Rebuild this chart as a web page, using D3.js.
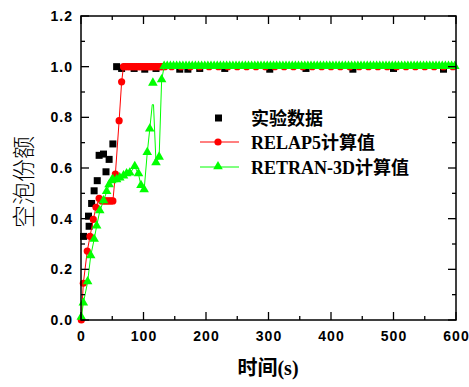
<!DOCTYPE html>
<html lang="zh">
<head>
<meta charset="UTF-8">
<title>空泡份额</title>
<script src="https://d3js.org/d3.v7.min.js"></script>
<style>
  body { margin: 0; background: #fff; }
  .tick-label { font-family: "Liberation Sans", Arial, sans-serif; font-weight: bold; font-size: 14px; letter-spacing: 1px; }
  .legend-text { font-family: "Liberation Serif", "Noto Sans CJK SC", serif; font-weight: bold; font-size: 18px; }
</style>
</head>
<body>
<script>
// data
var expT = [4, 12, 13, 17, 21, 26, 29, 36, 40, 45, 51, 57, 65, 85, 102, 120, 158, 171, 190, 230, 302, 360, 435, 500, 580];
var expV = [0.33, 0.41, 0.37, 0.46, 0.51, 0.55, 0.65, 0.655, 0.585, 0.634, 0.695, 1.0, 0.993, 0.993, 0.99, 0.993, 0.99, 0.99, 0.993, 0.993, 0.99, 0.993, 0.99, 0.993, 0.99];

var relapT = [0.5, 3.7, 10, 14.4, 19.7, 24, 29, 33, 36, 39, 42, 45, 48, 51, 55, 61, 65];
var relapV = [0, 0.145, 0.272, 0.33, 0.397, 0.445, 0.48, 0.47, 0.47, 0.47, 0.47, 0.47, 0.47, 0.47, 0.576, 0.787, 0.94];
var relapPlateauT = [68, 71, 74, 77, 80, 83, 86, 89, 92, 95, 98, 101, 104, 107, 110, 113, 116, 119, 122, 125, 128, 131, 134,
  145, 160, 175, 190, 205, 220, 235, 250, 265, 280, 295, 310, 325, 340, 355, 370, 385, 400, 415, 430, 445, 460, 475, 490, 505, 520, 535, 550, 565, 580, 595];
var relapPlateauV = 1.0;

var retranT = [0.5, 3.7, 10.6, 15.5, 21, 25, 30, 36, 41, 45, 49, 51, 57, 62, 68, 73, 78, 86, 92, 96, 101, 106, 110, 120, 125, 129];
var retranV = [0.01, 0.066, 0.15, 0.253, 0.318, 0.37, 0.43, 0.47, 0.506, 0.533, 0.549, 0.553, 0.553, 0.56, 0.568, 0.576, 0.579, 0.605, 0.576, 0.53, 0.513, 0.66, 0.753, 0.62, 0.642, 0.947];
// line-only points of the spike (no symbol) and a lone symbol
var retranSpikeT = [114, 116];
var retranSpikeV = [0.85, 0.85];
var retranLoneT = [115];
var retranLoneV = [0.934];
var retranPlateauT = [133, 138, 143, 148, 153, 158, 163, 168, 173, 178, 183, 188, 193, 198, 203, 208, 213, 218, 223, 228,
  233, 238, 243, 248, 253, 258, 263, 268, 273, 278, 283, 288, 293, 298, 303, 308, 313, 318, 323, 328, 333, 338, 343, 348,
  353, 358, 363, 368, 373, 378, 383, 388, 393, 398, 403, 408, 413, 418, 423, 428, 433, 438, 443, 448, 453, 458, 463, 468,
  473, 478, 483, 488, 493, 498, 503, 508, 513, 518, 523, 528, 533, 538, 543, 548, 553, 558, 563, 568, 573, 578, 583, 588, 593, 598];
var retranPlateauV = 1.0;

var xTicks = [0, 100, 200, 300, 400, 500, 600];
var yTicks = [0.0, 0.2, 0.4, 0.6, 0.8, 1.0, 1.2];
var legendLabels = ["实验数据", "RELAP5计算值", "RETRAN-3D计算值"];

var w = 469, h = 387;
var x = d3.scaleLinear().domain([0, 600]).range([81, 456]);
var y = d3.scaleLinear().domain([0, 1.2]).range([320, 16]);

var svg = d3.select("body").append("svg")
    .attr("width", w)
    .attr("height", h);

function pts(ts, vs) {
  return ts.map(function(t, i) { return [t, vs[i]]; });
}
function flat(ts, v) {
  return ts.map(function(t) { return [t, v]; });
}

var expPts = pts(expT, expV);
var relapPts = pts(relapT, relapV).concat(flat(relapPlateauT, relapPlateauV));
var retranSym = pts(retranT, retranV).concat(pts(retranLoneT, retranLoneV)).concat(flat(retranPlateauT, retranPlateauV));
var retranLine = pts(retranT, retranV).concat(pts(retranSpikeT, retranSpikeV)).concat(flat(retranPlateauT, retranPlateauV))
    .sort(function(a, b) { return a[0] - b[0]; });

var line = d3.line()
    .x(function(d) { return x(d[0]); })
    .y(function(d) { return y(d[1]); });

var tri = d3.symbol().type(d3.symbolTriangle).size(40);

// experiment squares
svg.append("g").selectAll("rect")
    .data(expPts)
    .enter().append("rect")
    .attr("x", function(d) { return x(d[0]) - 3.5; })
    .attr("y", function(d) { return y(d[1]) - 3.5; })
    .attr("width", 7)
    .attr("height", 7)
    .attr("fill", "#000");

// RELAP5
svg.append("path")
    .attr("d", line(relapPts))
    .attr("fill", "none")
    .attr("stroke", "#ff0000")
    .attr("stroke-width", 1);
svg.append("g").selectAll("circle")
    .data(relapPts)
    .enter().append("circle")
    .attr("cx", function(d) { return x(d[0]); })
    .attr("cy", function(d) { return y(d[1]); })
    .attr("r", 3.6)
    .attr("fill", "#ff0000");

// RETRAN-3D
svg.append("path")
    .attr("d", line(retranLine))
    .attr("fill", "none")
    .attr("stroke", "#00ff00")
    .attr("stroke-width", 1);
svg.append("g").selectAll("path")
    .data(retranSym)
    .enter().append("path")
    .attr("d", tri)
    .attr("transform", function(d) { return "translate(" + x(d[0]) + "," + (y(d[1]) - 0.5) + ")"; })
    .attr("fill", "#00ff00");

// frame
svg.append("rect")
    .attr("x", 81).attr("y", 16)
    .attr("width", 375).attr("height", 304)
    .attr("fill", "none")
    .attr("stroke", "#000")
    .attr("stroke-width", 1.5);

// ticks, all pointing inward
var xMinor = [50, 150, 250, 350, 450, 550];
var yMinor = [0.1, 0.3, 0.5, 0.7, 0.9, 1.1];
var tk = svg.append("g").attr("stroke", "#000").attr("stroke-width", 1.3);
xTicks.concat(xMinor).forEach(function(t) {
  var len = xTicks.indexOf(t) >= 0 ? 8 : 4;
  tk.append("line").attr("x1", x(t)).attr("x2", x(t)).attr("y1", 320).attr("y2", 320 - len);
  tk.append("line").attr("x1", x(t)).attr("x2", x(t)).attr("y1", 16).attr("y2", 16 + len);
});
yTicks.concat(yMinor).forEach(function(t) {
  var len = yTicks.indexOf(t) >= 0 ? 8 : 4;
  tk.append("line").attr("y1", y(t)).attr("y2", y(t)).attr("x1", 81).attr("x2", 81 + len);
  tk.append("line").attr("y1", y(t)).attr("y2", y(t)).attr("x1", 456).attr("x2", 456 - len);
});

svg.append("g").selectAll("text")
    .data(xTicks)
    .enter().append("text")
    .attr("class", "tick-label")
    .attr("x", function(d) { return x(d) + 0.5; })
    .attr("y", 341)
    .attr("text-anchor", "middle")
    .text(function(d) { return d; });

svg.append("g").selectAll("text")
    .data(yTicks)
    .enter().append("text")
    .attr("class", "tick-label")
    .attr("x", 73)
    .attr("y", function(d) { return y(d) + 5; })
    .attr("text-anchor", "end")
    .text(function(d) { return d.toFixed(1); });

// axis titles
svg.append("text")
    .attr("x", 268)
    .attr("y", 375)
    .attr("text-anchor", "middle")
    .style("font-family", "'Liberation Serif', 'Noto Sans CJK SC', serif")
    .style("font-weight", "bold")
    .style("font-size", "20px")
    .text("时间(s)");

svg.append("text")
    .attr("transform", "translate(32,182) rotate(-90)")
    .attr("text-anchor", "middle")
    .style("font-family", "'Noto Sans CJK SC', sans-serif")
    .style("font-size", "23px")
    .style("font-weight", "300")
    .text("空泡份额");

// legend
var lg = svg.append("g");
var rowY = [118, 142, 167];
lg.append("rect").attr("x", 215).attr("y", rowY[0] - 3.5).attr("width", 7).attr("height", 7).attr("fill", "#000");
lg.append("line").attr("x1", 200).attr("x2", 239).attr("y1", rowY[1]).attr("y2", rowY[1]).attr("stroke", "#ff0000");
lg.append("circle").attr("cx", 218).attr("cy", rowY[1]).attr("r", 3.6).attr("fill", "#ff0000");
lg.append("line").attr("x1", 200).attr("x2", 239).attr("y1", rowY[2]).attr("y2", rowY[2]).attr("stroke", "#00ff00");
lg.append("path").attr("d", tri).attr("transform", "translate(218," + (rowY[2] - 0.5) + ")").attr("fill", "#00ff00");

lg.selectAll("text")
    .data(legendLabels)
    .enter().append("text")
    .attr("class", "legend-text")
    .attr("x", 251)
    .attr("y", function(d, i) { return rowY[i] + 7; })
    .text(function(d) { return d; });
</script>
</body>
</html>
